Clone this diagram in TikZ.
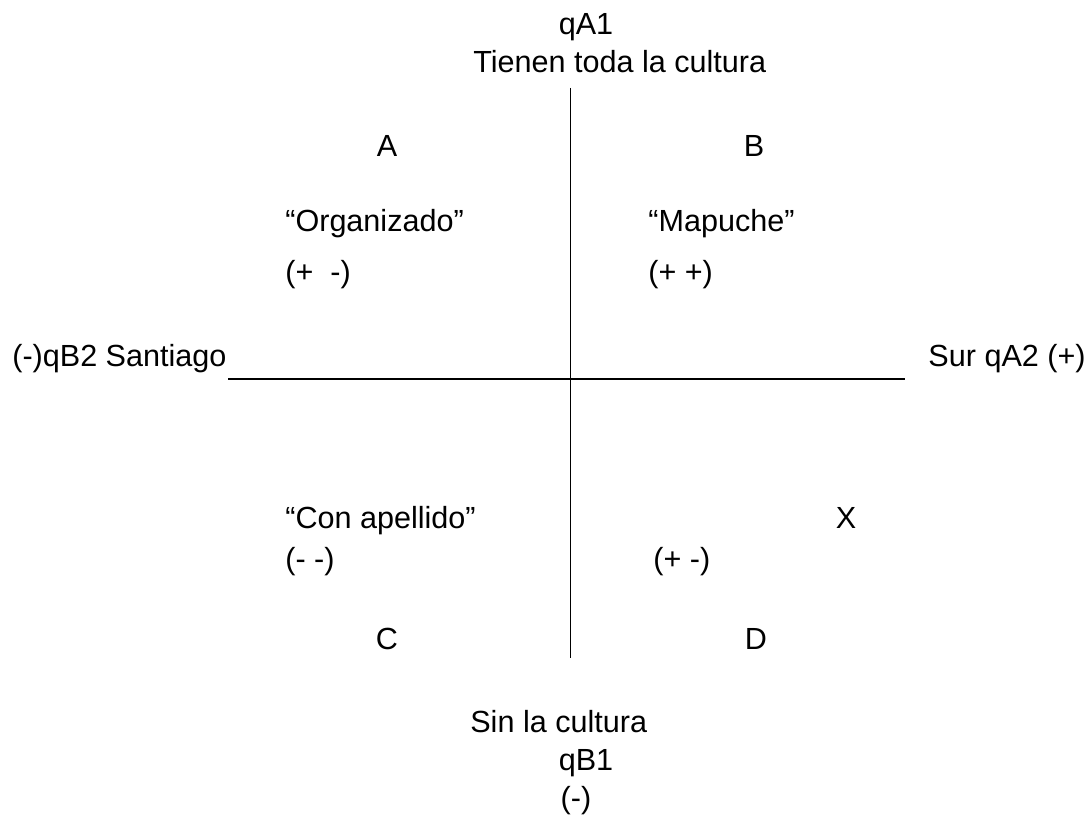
\documentclass[tikz,border=0pt]{standalone}
\usepackage{fontspec}
\setmainfont{Liberation Sans}
\begin{document}
\begin{tikzpicture}[x=0.02cm,y=-0.02cm,
  lbl/.style={inner sep=0pt,anchor=base,font=\fontsize{17.4}{20}\selectfont},
  lblw/.style={lbl,anchor=base west},
  lble/.style={lbl,anchor=base east},
  axis/.style={line width=1pt,black}]
\useasboundingbox (0,0) rectangle (1091,821);
\coordinate (vt) at (570.5,88);
\coordinate (vb) at (570.5,658);
\coordinate (hl) at (228,379);
\coordinate (hr) at (905,379);
\draw[axis] (vt) -- (vb);
\draw[axis] (hl) -- (hr);
\node[lbl] (qa1) at (586,35) {qA1};
\node[lblw] (tienen) at (473,72) {Tienen toda la cultura};
\node[lbl] (A) at (387,156) {A};
\node[lbl] (B) at (754,156) {B};
\node[lblw] (org) at (285,231) {“Organizado”};
\node[lblw] (pm) at (285,282) {(+\ \ -)};
\node[lblw] (map) at (648,231) {“Mapuche”};
\node[lblw] (pp) at (648,282) {(+ +)};
\node[lblw] (stgo) at (12,366) {(-)qB2 Santiago};
\node[lble] (sur) at (1086,366) {Sur qA2 (+)};
\node[lblw] (ape) at (285,528) {“Con apellido”};
\node[lbl] (X) at (846,528) {X};
\node[lblw] (mm) at (285,569) {(- -)};
\node[lblw] (pm2) at (653,569) {(+ -)};
\node[lbl] (C) at (387,649) {C};
\node[lbl] (D) at (756,649) {D};
\node[lblw] (sin) at (470,732) {Sin la cultura};
\node[lbl] (qb1) at (586,770) {qB1};
\node[lbl] (minus) at (576,808) {(-)};
\end{tikzpicture}
\end{document}
